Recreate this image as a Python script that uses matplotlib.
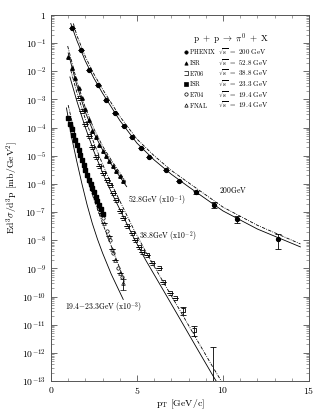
import matplotlib
matplotlib.use('Agg')
import matplotlib.pyplot as plt
from matplotlib.path import Path
from matplotlib.ticker import LogLocator, NullFormatter, MultipleLocator

plt.rcParams['mathtext.fontset'] = 'cm'
plt.rcParams['font.family'] = 'DejaVu Serif'

# PHENIX 200 GeV (filled circles)
phenix_pt = [1.22, 1.72, 2.22, 2.72, 3.22, 3.72, 4.22, 4.72, 5.22, 5.72, 6.7, 7.45, 8.45, 9.45, 10.8, 13.2]
phenix_y = [3.5e-1, 5.8e-2, 1.1e-2, 3.2e-3, 9.5e-4, 3.3e-4, 1.15e-4, 4.7e-5, 1.9e-5, 8.9e-6,
            3.0e-6, 1.26e-6, 5.0e-7, 1.8e-7, 5.6e-8, 1.07e-8]
phenix_err = [0, 0, 0, 0, 0, 0, 0, 0, 0, 0, 0, 0, 0.6e-7, 0.4e-7, 1.6e-8, 0.6e-8]

# ISR 52.8 GeV x 1e-1 (filled triangles)
isr53_pt = [1.0, 1.2, 1.4, 1.6, 1.8, 2.0, 2.2, 2.4, 2.6, 2.8, 3.0, 3.2, 3.4, 3.6, 3.8, 4.0, 4.2]
isr53_y = [3.2e-2, 1.26e-2, 5.6e-3, 2.5e-3, 1.1e-3, 4.5e-4, 1.8e-4, 7.9e-5, 4.5e-5, 2.5e-5,
           1.5e-5, 9.5e-6, 6.3e-6, 4.2e-6, 2.8e-6, 1.9e-6, 1.3e-6]

# E706 38.8 GeV x 1e-2 (open brackets)
e706_pt = [1.6, 1.8, 2.0, 2.2, 2.4, 2.6, 2.8, 3.0, 3.25, 3.45, 3.6, 3.8, 4.0, 4.2, 4.4, 4.7, 4.9,
           5.1, 5.3, 5.6, 5.9, 6.3, 6.5, 6.9, 7.2, 7.7, 8.3]
e706_y = [1.1e-3, 4.0e-4, 1.4e-4, 5.0e-5, 2.0e-5, 8.9e-6, 4.5e-6, 2.5e-6, 1.4e-6, 9.1e-7,
          4.8e-7, 2.6e-7, 1.1e-7, 6.0e-8, 3.2e-8, 1.8e-8, 1.0e-8, 5.8e-9, 3.8e-9, 3.0e-9,
          1.6e-9, 1.0e-9, 3.3e-10, 1.3e-10, 9.0e-11, 3.3e-11, 6.5e-12]
e706_err = [0] * 22 + [0, 0, 0, 1.0e-11, 2.5e-12]

# E706 high-pT point with large error
e706_last_pt = [9.4]
e706_last_y = [4.0e-13]
e706_last_up = [1.2e-12]

# ISR 23.3 GeV x 1e-3 (filled squares)
isr23_pt = [1.0, 1.1, 1.2, 1.3, 1.4, 1.5, 1.6, 1.7, 1.8, 1.9, 2.0, 2.1, 2.2, 2.3, 2.4, 2.5, 2.6,
            2.7, 2.8, 2.9, 3.0]
isr23_y = [2.2e-4, 1.4e-4, 8.9e-5, 5.6e-5, 3.5e-5, 2.4e-5, 1.6e-5, 1.07e-5, 7.1e-6, 4.8e-6,
           3.2e-6, 2.1e-6, 1.4e-6, 1.0e-6, 7.1e-7, 5.0e-7, 3.5e-7, 2.5e-7, 1.8e-7, 1.26e-7, 8.9e-8]

# E704 19.4 GeV x 1e-3 (open circles)
e704_pt = [2.6, 2.8, 3.0, 3.25, 3.45, 3.6, 3.9, 4.15]
e704_y = [3.0e-7, 1.3e-7, 6.0e-8, 2.2e-8, 1.0e-8, 3.5e-9, 1.0e-9, 5.0e-10]

# FNAL 19.4 GeV x 1e-3 (open triangles)
fnal_pt = [2.9, 3.1, 3.35, 3.55, 3.75, 4.0, 4.2]
fnal_y = [9.0e-8, 4.0e-8, 1.4e-8, 5.0e-9, 2.0e-9, 7.0e-10, 3.0e-10]
fnal_err = [0, 0, 0, 0, 0, 0, 1.3e-10]

# theory curves
ph_solid_x = [1.15, 1.5, 2.0, 2.5, 3.0, 4.0, 5.0, 6.0, 7.0, 8.0, 10.0, 12.0, 14.5]
ph_solid_y = [5e-1, 1.26e-1, 2.3e-2, 5.6e-3, 1.66e-3, 1.8e-4, 2.8e-5, 7.1e-6, 2.2e-6, 7.9e-7,
              1.1e-7, 2.5e-8, 5.8e-9]
ph_dash_x = [1.3, 1.5, 2.0, 2.5, 3.0, 4.0, 5.0, 6.0, 7.0, 8.0, 10.0, 12.0, 14.5]
ph_dash_y = [5e-1, 1.9e-1, 3.3e-2, 7.9e-3, 2.3e-3, 2.5e-4, 3.9e-5, 1.0e-5, 3.0e-6, 1.1e-6,
             1.5e-7, 3.4e-8, 7.4e-9]

s53_solid_x = [1.0, 1.5, 2.0, 2.5, 3.0, 3.5, 4.0, 4.4]
s53_solid_y = [4.5e-2, 3.2e-3, 3.5e-4, 6.3e-5, 1.6e-5, 5.0e-6, 1.8e-6, 8.0e-7]
s53_dash_x = [0.97, 1.5, 2.0, 2.5, 3.0, 3.5, 4.0, 4.35]
s53_dash_y = [7.9e-2, 4.5e-3, 5.0e-4, 8.9e-5, 2.2e-5, 7.1e-6, 2.5e-6, 1.2e-6]

s39_solid_x = [1.1, 1.5, 2.0, 2.5, 3.0, 3.5, 4.0, 4.8, 5.5, 6.5, 7.5, 8.5, 9.4, 9.9]
s39_solid_y = [6.3e-3, 8.9e-4, 1.0e-4, 1.4e-5, 2.5e-6, 5.2e-7, 1.26e-7, 1.26e-8, 2.0e-9,
               1.8e-10, 1.6e-11, 1.4e-12, 1.6e-13, 5.0e-14]
s39_dash_x = [1.15, 1.5, 2.0, 2.5, 3.0, 3.5, 4.0, 4.8, 5.5, 6.5, 7.5, 8.5, 9.4, 10.1]
s39_dash_y = [1.1e-2, 1.8e-3, 2.0e-4, 2.8e-5, 5.0e-6, 1.05e-6, 2.5e-7, 2.5e-8, 4.0e-9,
              3.5e-10, 3.2e-11, 2.8e-12, 3.2e-13, 6.3e-14]

s19_solid_x = [0.9, 1.2, 1.5, 1.8, 2.1, 2.4, 2.7, 3.0, 3.5, 4.2]
s19_solid_y = [5.0e-4, 4.5e-5, 6.3e-6, 1.0e-6, 1.8e-7, 4.0e-8, 1.1e-8, 3.5e-9, 6.3e-10, 7.9e-11]
s19_dash_x = [1.0, 1.3, 1.6, 2.0, 2.5, 3.0, 3.5, 4.0, 4.3]
s19_dash_y = [6.3e-4, 1.0e-4, 1.8e-5, 2.5e-6, 2.8e-7, 4.0e-8, 6.3e-9, 1.0e-9, 3.2e-10]

bracket = Path([(-1, 1), (1, 1), (1, -1), (-1, -1)],
               [Path.MOVETO, Path.LINETO, Path.LINETO, Path.LINETO])

fig = plt.figure(figsize=(3.32, 4.12), dpi=100)
ax = fig.add_axes([0.1536, 0.0752, 0.7771, 0.8884])

lw = 0.6
dd = (4, 1.5, 1, 1.5)
ax.plot(ph_solid_x, ph_solid_y, '-', color='black', lw=lw)
ax.plot(ph_dash_x, ph_dash_y, '-.', color='black', lw=lw, dashes=dd)
ax.plot(s53_solid_x, s53_solid_y, '-', color='black', lw=lw)
ax.plot(s53_dash_x, s53_dash_y, '-.', color='black', lw=lw, dashes=dd)
ax.plot(s39_solid_x, s39_solid_y, '-', color='black', lw=lw)
ax.plot(s39_dash_x, s39_dash_y, '-.', color='black', lw=lw, dashes=dd)
ax.plot(s19_solid_x, s19_solid_y, '-', color='black', lw=lw)
ax.plot(s19_dash_x, s19_dash_y, '-.', color='black', lw=lw, dashes=dd)

ax.errorbar(phenix_pt, phenix_y, yerr=phenix_err, fmt='o', color='black', ms=2.8,
            elinewidth=0.6, capsize=2, capthick=0.6)
ax.plot(isr53_pt, isr53_y, '^', color='black', ms=2.5, ls='none')
ax.errorbar(e706_pt, e706_y, yerr=e706_err, fmt='none', ecolor='black',
            elinewidth=0.6, capsize=2, capthick=0.6)
ax.plot(e706_pt, e706_y, marker=bracket, color='black', ms=3, mfc='none', mew=0.6, ls='none')
ax.errorbar(e706_last_pt, e706_last_y, yerr=[[3.9e-13], e706_last_up], fmt='none',
            ecolor='black', elinewidth=0.6, capsize=2, capthick=0.6)
ax.plot(isr23_pt, isr23_y, 's', color='black', ms=2.2, ls='none')
ax.plot(e704_pt, e704_y, 'o', color='black', ms=2.4, mfc='none', mew=0.5, ls='none')
ax.errorbar(fnal_pt, fnal_y, yerr=fnal_err, fmt='^', color='black', ms=2.6, mfc='none',
            mew=0.5, elinewidth=0.6, capsize=2, capthick=0.6)

ax.set_yscale('log')
ax.set_xlim(0, 15)
ax.set_xticks([0, 5, 10, 15])
ax.set_xticklabels(['$0$', '$5$', '$10$', '$15$'])
ax.xaxis.set_minor_locator(MultipleLocator(1))
ax.set_yticks([10.0 ** k for k in range(-13, 1)])
ax.set_yticklabels(['$1$' if k == 0 else '$10^{%d}$' % k for k in range(-13, 1)])
ax.yaxis.set_minor_locator(LogLocator(base=10, subs=range(2, 10), numticks=20))
ax.yaxis.set_minor_formatter(NullFormatter())
ax.set_ylim(1e-13, 1)
ax.tick_params(which='both', direction='in', top=True, right=True, labelsize=7, color='#555555')
ax.tick_params(which='major', length=4, width=0.6)
ax.tick_params(which='minor', length=2, width=0.4)
ax.tick_params(axis='x', pad=3)
for sp in ax.spines.values():
    sp.set_linewidth(0.7)
    sp.set_color('#555555')

ax.set_xlabel(r'$\mathrm{p_T\ [GeV/c]}$', fontsize=7, labelpad=1)
ax.set_ylabel(r'$\mathrm{Ed^3\sigma/d^3p\ [mb/GeV^2]}$', fontsize=7)
ax.yaxis.set_label_coords(-0.12, 0.53)

fs = 5.5
ax.text(9.77, 6.0e-7, r'$\mathrm{200GeV}$', fontsize=fs, va='center')
ax.text(4.48, 2.5e-7, r'$\mathrm{52.8GeV\ (x10^{-1})}$', fontsize=fs, va='center')
ax.text(5.12, 1.3e-8, r'$\mathrm{38.8GeV\ (x10^{-2})}$', fontsize=fs, va='center')
ax.text(0.81, 3.9e-11, r'$\mathrm{19.4{-}23.3GeV\ (x10^{-3})}$', fontsize=fs, va='center')

# legend drawn by hand
ax.text(0.70, 0.934, r'$\mathrm{p\ +\ p\ \rightarrow\ \pi^0\ +\ X}$', fontsize=6.5,
        ha='center', va='center', transform=ax.transAxes)
leg_rows = [
    ('o', 'full', 'PHENIX', '200'),
    ('^', 'full', 'ISR', '52.8'),
    (bracket, 'none', 'E706', '38.8'),
    ('s', 'full', 'ISR', '23.3'),
    ('o', 'none', 'E704', '19.4'),
    ('^', 'none', 'FNAL', '19.4'),
]
for i, (mk, fill, name, energy) in enumerate(leg_rows):
    yy = 0.899 - i * 0.029
    ax.plot([0.522], [yy], marker=mk, color='black', ms=2.4, mew=0.5,
            mfc='black' if fill == 'full' else 'none', transform=ax.transAxes)
    ax.text(0.533, yy, r'$\mathrm{%s}$' % name, fontsize=4.6, va='center', transform=ax.transAxes)
    ax.text(0.648, yy, r'$\mathrm{\sqrt{s}\ =\ %s\ GeV}$' % energy, fontsize=5,
            va='center', transform=ax.transAxes)

fig.savefig('out.png', dpi=100)
